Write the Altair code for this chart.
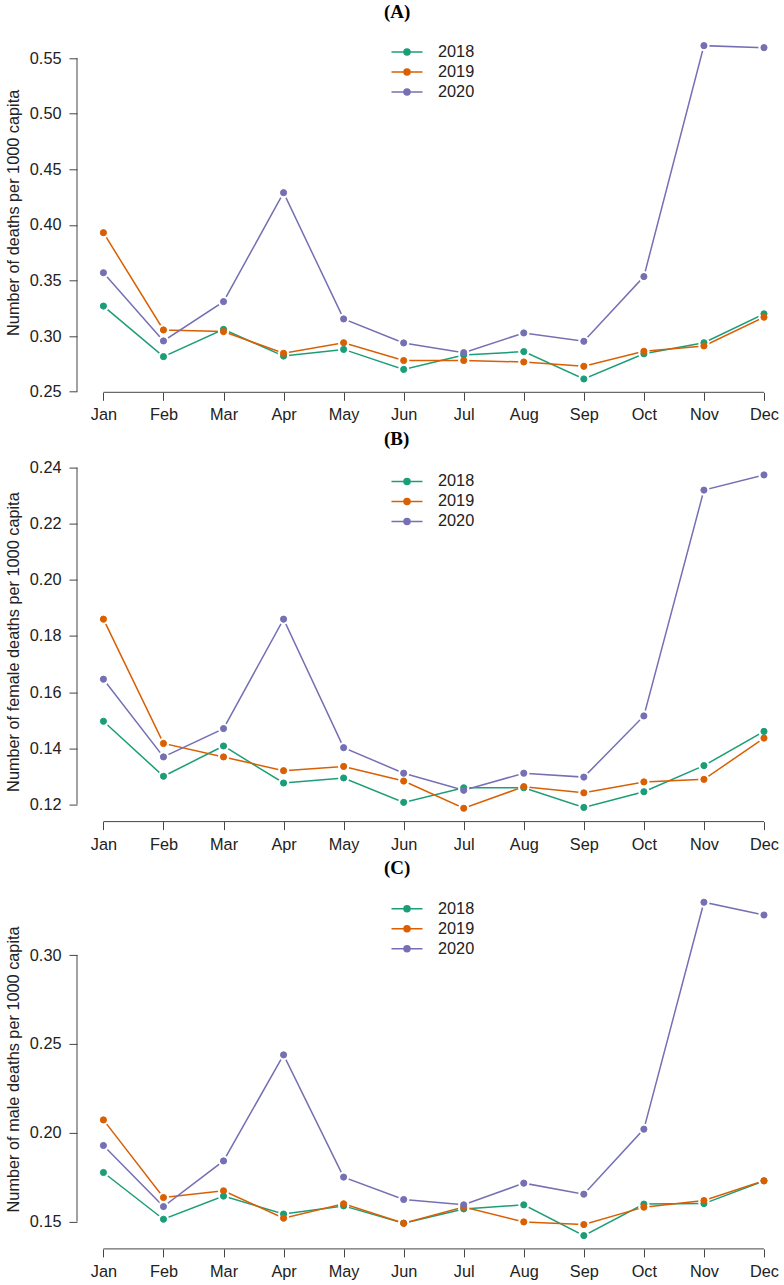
import altair as alt
import pandas as pd

# Monthly deaths per 1000 capita, three reference years
months = ["Jan", "Feb", "Mar", "Apr", "May", "Jun",
          "Jul", "Aug", "Sep", "Oct", "Nov", "Dec"]
years = ["2018", "2019", "2020"]
palette = ["#1B9E77", "#D95F02", "#7570B3"]

all_2018 = [0.327, 0.2815, 0.306, 0.282, 0.288, 0.270, 0.283, 0.286, 0.2614, 0.284, 0.294, 0.320]
all_2019 = [0.393, 0.3055, 0.304, 0.2845, 0.294, 0.278, 0.278, 0.2767, 0.2728, 0.2863, 0.2911, 0.317]
all_2020 = [0.357, 0.2956, 0.331, 0.429, 0.3154, 0.2938, 0.2851, 0.3028, 0.2953, 0.3535, 0.5613, 0.5595]

female_2018 = [0.1496, 0.130, 0.1408, 0.1276, 0.1294, 0.1207, 0.1259, 0.1259, 0.1189, 0.1245, 0.1338, 0.146]
female_2019 = [0.186, 0.1417, 0.1369, 0.132, 0.1335, 0.1283, 0.1186, 0.1263, 0.1241, 0.128, 0.1289, 0.1436]
female_2020 = [0.1646, 0.1369, 0.147, 0.186, 0.1402, 0.1311, 0.125, 0.1311, 0.1297, 0.1515, 0.232, 0.2374]

male_2018 = [0.1776, 0.1513, 0.1643, 0.1542, 0.1588, 0.1491, 0.1571, 0.1594, 0.1421, 0.1598, 0.1601, 0.1729]
male_2019 = [0.2072, 0.1635, 0.1673, 0.1519, 0.160, 0.149, 0.1581, 0.1498, 0.1483, 0.1581, 0.1618, 0.1729]
male_2020 = [0.1928, 0.1584, 0.1841, 0.2438, 0.175, 0.1624, 0.1594, 0.1716, 0.1654, 0.202, 0.3297, 0.3225]

ticks_all = [0.25, 0.30, 0.35, 0.40, 0.45, 0.50, 0.55]
ticks_female = [0.12, 0.14, 0.16, 0.18, 0.20, 0.22, 0.24]
ticks_male = [0.15, 0.20, 0.25, 0.30]

W, H = 705, 360
X_LO, X_HI = 0.56, 12.30
SANS = "Liberation Sans"
AXIS_COL = "#444444"
TEXT_COL = "#222222"
FS = 16.3

# legend glyph: a short line with a dot in the middle
LEGEND_GLYPH = ("M-1.55,0L1.55,0M0.3,0A0.3,0.3,0,1,1,-0.3,0"
                "A0.3,0.3,0,1,1,0.3,0Z")


def legend():
    return alt.Legend(title=None, orient="none", legendX=319, legendY=8.8,
                      symbolType=LEGEND_GLYPH, symbolSize=400,
                      symbolStrokeWidth=1.5, labelFont=SANS,
                      labelFontSize=FS, labelColor=TEXT_COL,
                      labelOffset=20, rowPadding=0, padding=0)


def panel(series, letter, ylab, ticks):
    rows = []
    for yr, vals in zip(years, series):
        for i, v in enumerate(vals):
            rows.append({"month": i + 1, "year": yr, "value": v})
    df = pd.DataFrame(rows)

    lo, hi = df["value"].min(), df["value"].max()
    pad = 0.04 * (hi - lo)
    yscale = alt.Scale(domain=[lo - pad, hi + pad], nice=False, zero=False)
    xscale = alt.Scale(domain=[X_LO, X_HI], nice=False, zero=False)

    month_expr = "[" + ",".join(f"'{m}'" for m in months) + "][datum.value - 1]"
    xaxis = alt.Axis(values=list(range(1, 13)), labelExpr=month_expr, domain=False,
                     grid=False, tickSize=8, tickColor=AXIS_COL, tickWidth=1,
                     labelFont=SANS, labelFontSize=FS, labelColor=TEXT_COL,
                     labelPadding=6.5, labelFlush=False, labelOverlap=False, title=None)
    yaxis = alt.Axis(values=ticks, format=".2f", domain=False, grid=False,
                     tickSize=8, tickColor=AXIS_COL, tickWidth=1,
                     labelFont=SANS, labelFontSize=FS, labelColor=TEXT_COL,
                     labelPadding=8, labelFlush=False, labelOverlap=False,
                     title=ylab, titleFont=SANS, titleFontSize=FS,
                     titleFontWeight="normal", titleColor=TEXT_COL, titlePadding=8)

    cscale = alt.Scale(domain=years, range=palette)
    color = alt.Color("year:N", scale=cscale, legend=legend())
    stroke = alt.Stroke("year:N", scale=cscale, legend=legend())

    x = alt.X("month:Q", scale=xscale, axis=xaxis)
    y = alt.Y("value:Q", scale=yscale, axis=yaxis)

    base = alt.Chart(df)
    lines = base.mark_line(strokeWidth=1.5).encode(x=x, y=y, color=color, order="month:Q")
    halo = base.mark_circle(size=125, color="white", opacity=1).encode(x=x, y=y)
    dots = base.mark_circle(size=38, opacity=1, strokeWidth=1).encode(
        x=x, y=y, color=color, stroke=stroke)

    # axis lines that run only between the first and last tick
    yline = alt.Chart(pd.DataFrame({"value": [ticks[0]], "value2": [ticks[-1]]})).mark_rule(
        color=AXIS_COL, strokeWidth=1).encode(x=alt.value(0), y=y, y2="value2:Q")
    xline = alt.Chart(pd.DataFrame({"month": [1], "month2": [12]})).mark_rule(
        color=AXIS_COL, strokeWidth=1).encode(y=alt.value(H), x=x, x2="month2:Q")

    return alt.layer(lines, halo, dots, yline, xline).properties(
        width=W, height=H,
        title=alt.TitleParams(letter, anchor="start", frame="group", dx=307,
                              font="Liberation Serif", fontSize=19, fontWeight="bold",
                              color="#000000", baseline="middle", offset=1.5),
    )


chart = alt.vconcat(
    panel([all_2018, all_2019, all_2020], "(A)", "Number of deaths per 1000 capita", ticks_all),
    panel([female_2018, female_2019, female_2020], "(B)",
          "Number of female deaths per 1000 capita", ticks_female),
    panel([male_2018, male_2019, male_2020], "(C)",
          "Number of male deaths per 1000 capita", ticks_male),
    spacing=6.3,
).resolve_scale(color="independent", stroke="independent").resolve_legend(
    color="independent", stroke="independent"
).properties(
    padding={"left": 5, "top": 2.3, "right": 0, "bottom": 0}
).configure(background="white").configure_view(stroke=None)

chart.save("out.html", embed_options={"renderer": "svg", "actions": False})
